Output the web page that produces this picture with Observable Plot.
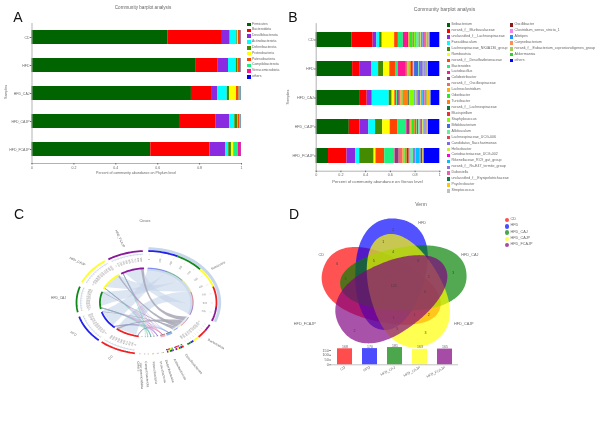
<!DOCTYPE html>
<html><head><meta charset="utf-8">
<script src="https://cdn.jsdelivr.net/npm/d3@7"></script>
<script src="https://cdn.jsdelivr.net/npm/@observablehq/plot@0.6"></script>
<style>
html,body{margin:0;padding:0;background:#fff}
#root{position:relative;width:609px;height:421px;overflow:hidden;font-family:"Liberation Sans",Arial,sans-serif;filter:blur(.4px)}
#root svg{position:absolute;overflow:visible}
.t{position:absolute;white-space:nowrap;color:#666;line-height:1}
.k{position:absolute}
</style></head><body><div id="root"></div>
<script>
// ---------- Panel A data ----------
const samples = ["CD","HFD","HFD_CAJ","HFD_CAJP","HFD_FCAJP"];
const phyla = ["Firmicutes","Bacteroidota","Desulfobacterota","Actinobacteriota","Deferribacterota","Proteobacteria","Patescibacteria","Campilobacterota","Verrucomicrobiota","others"];
const phylaColors = ["#006400","#ff0000","#8a2be2","#00ffff","#458b00","#ffff00","#ff4500","#1cf07f","#ff1493","#0000ff"];
const phylaCD    = [.648,.261,.037,.032,.004,.003,.012,.001,.001,.001];
const phylaHFD   = [.781,.108,.049,.037,.009,.001,.011,.002,.001,.001];
const phylaCAJ   = [.761,.100,.026,.045,.012,.032,.013,.009,.001,.001];
const phylaCAJP  = [.704,.173,.067,.024,.013,.002,.010,.005,.001,.001];
const phylaFCAJP = [.567,.282,.075,.015,.013,.010,.002,.020,.015,.001];
const phylaBySample = [phylaCD,phylaHFD,phylaCAJ,phylaCAJP,phylaFCAJP];

// ---------- Panel B data ----------
const genera = ["Ileibacterium","norank_f__Muribaculaceae","unclassified_f__Lachnospiraceae","Faecalibaculum","Lachnospiraceae_NK4A136_group","Romboutsia","norank_f__Desulfovibrionaceae","Bacteroides","Lactobacillus","Colidextribacter","norank_f__Oscillospiraceae","Lachnoclostridium","Odoribacter","Turicibacter","norank_f__Lachnospiraceae","Mucispirillum","Staphylococcus","Bifidobacterium","Allobaculum","Lachnospiraceae_UCG-006","Candidatus_Saccharimonas","Helicobacter","Coriobacteriaceae_UCG-002","Rikenellaceae_RC9_gut_group","norank_f__Rs-E47_termite_group","Dubosiella","unclassified_f__Erysipelotrichaceae","Psychrobacter","Streptococcus","Oscillibacter","Clostridium_sensu_stricto_1","Alistipes","Corynebacterium","norank_f__Eubacterium_coprostanoligenes_group","Akkermansia","others"];
const genusColors = ["#006400","#ff0000","#8a2be2","#00ffff","#458b00","#ffff00","#ff4500","#1cf07f","#ff1493","#8b3a7a","#f0696a","#ffb000","#22ee22","#ff7f10","#0a7a3a","#f03030","#7fff00","#4169e1","#66ee99","#e04050","#7b68ee","#c8f030","#ff00e0","#00bfff","#9370db","#f060a8","#0a8040","#ffc800","#c0c0c0","#8b1a1a","#ee82ee","#1e90ff","#ff8c50","#a2cd5a","#32cd32","#0000ff"];
const generaCD    = [.286,.172,.030,.022,.021,.100,.030,.040,.033,.008,.005,.005,.026,.003,.006,.003,.008,.006,.025,.005,.008,.005,.006,.006,.012,.015,.004,.004,.003,.003,.004,.003,.003,.003,.003,.078];
const generaHFD   = [.296,.062,.095,.054,.040,.051,.046,.024,.060,.005,.010,.012,.008,.012,.010,.006,.008,.035,.006,.008,.022,.004,.002,.006,.010,.006,.004,.002,.002,.001,.001,.001,.001,.001,.001,.092];
const generaCAJ   = [.329,.051,.038,.126,.022,.020,.014,.006,.008,.006,.012,.010,.006,.040,.006,.004,.038,.006,.010,.006,.020,.006,.004,.010,.012,.010,.006,.022,.002,.001,.001,.001,.001,.001,.001,.065];
const generaCAJP  = [.251,.081,.067,.051,.054,.057,.059,.062,.008,.018,.010,.012,.016,.006,.006,.004,.004,.012,.012,.006,.012,.008,.002,.006,.010,.006,.002,.002,.001,.001,.001,.001,.001,.001,.001,.086];
const generaFCAJP = [.094,.141,.067,.030,.110,.014,.067,.078,.004,.028,.030,.014,.012,.006,.012,.006,.004,.006,.020,.006,.008,.004,.002,.030,.006,.002,.012,.004,.001,.001,.001,.001,.001,.001,.001,.119];
const generaBySample = [generaCD,generaHFD,generaCAJ,generaCAJP,generaFCAJP];

// ---------- Panel C data (angles are clockwise from the top, degrees) ----------
const sampleColors = ["#ee2222","#2222ee","#11881a","#ffff22","#8a1a9a"];
const sampleStart = [189.6,223,259,293,327];
const sampleEnd   = [219.9,254,288,323.6,357];
const firmicutesOrder = ["HFD","HFD_CAJ","HFD_CAJP","CD","HFD_FCAJP"];
const firmicutesEdges = [1.5,26.5,50,72,95,111];
const bacteroidotaOrder = ["HFD_FCAJP","CD","HFD_CAJP","HFD","HFD_CAJ"];
const bacteroidotaEdges = [115.5,123,132,138,141,144.3];
const minorPhyla  = ["Desulfobacterota","Actinobacteriota","Deferribacterota","Proteobacteria","Patescibacteria","Campilobacterota","Verrucomicrobiota","Others"];
const minorStart  = [148,157,165.5,170,174,178,181,185];
const minorEnd    = [155.5,163,167.5,171.5,175.5,179,182,186];
const minorColors = ["#7d9fe8","#e86a9a","#9b7be0","#d090d0","#35b5a5","#7fc8a0","#55c0c0","#a0d0b8"];
const minorLabelAngle = [151,160,166,170,175,180.5,184,186];
const minorLabelR     = [1.153,1.164,1.148,1.163,1.15,1.146,1.17,1.15];
const minorLabelRot   = [50,62,72,78,83,85,87,86];
const majorLabels = ["Firmicutes","Bacteroidota"];
const majorLabelAngle = [55,129];
const majorLabelR = [1.25,1.28];
const majorLabelRot = [-28,30];
const sampleLabelAngle = [205.7,240,274,309,343];
const sampleLabelR = [1.185,1.206,1.26,1.27,1.295];
const sampleLabelRot = [-45,30,0,25,65];

// ---------- Panel D data ----------
const vennColors = ["#ff0000","#0000ff","#008000","#ffff00","#800080"];
const vennCenterX = [290,315,355,362,322];
const vennCenterY = [280,238,252,285,305];
const vennTipAngle = [290,8.5,85,157,240];
const vennLong = [185,168,190,177,181];
const vennWide = [100,105,95,108,105];
const vennLabels = ["CD","HFD","HFD_CAJ","HFD_CAJP","HFD_FCAJP"];
const vennLabelX = [107,410,553,535,58];
const vennLabelY = [178,83,178,385,385];
const vennNumbers = ["6","2","3","3","2","1","4","5","3","8","2","4","2","1","1","5","3","125"];
const vennNumberX = [155,323,503,420,207,293,323,265,180,398,430,418,430,388,325,335,220,325];
const vennNumberY = [205,103,233,413,405,140,170,197,250,197,243,290,357,357,367,400,237,272];
const sharedCounts = [168,170,181,163,165];

// ---------- helpers ----------
const root = document.getElementById("root");
function put(node,left,top){node.style.left=left+"px";node.style.top=top+"px";root.appendChild(node);}
function label(text,x,y,size,opts={}){
  const d=document.createElement("div");d.className="t";d.textContent=text;d.style.fontSize=size+"px";
  const ax=opts.anchor==="start"?"0":"-50%";
  d.style.transform=`translate(${ax},-50%)`+(opts.rotate?` rotate(${opts.rotate}deg)`:"");
  if(opts.color)d.style.color=opts.color;
  put(d,x,y);
}
function legend(names,colors,x,y,step,size,box){
  names.forEach((n,i)=>{
    const k=document.createElement("div");k.className="k";
    k.style.cssText+=`width:${box}px;height:${box}px;background:${colors[i]}`;
    put(k,x,y+i*step-box/2);
    label(n,x+box+1.4,y+i*step,size,{anchor:"start"});
  });
}
const tidy=(names,bySample)=>samples.flatMap((s,j)=>names.map((n,i)=>({sample:s,name:n,value:bySample[j][i]})));
function barPanel({left,top,w,h,ml,mr,mt,mb,names,colors,bySample,fs}){
  const p=Plot.plot({width:w,height:h,marginLeft:ml,marginRight:mr,marginTop:mt,marginBottom:mb,
    style:{background:"transparent",color:"#666",fontFamily:"Liberation Sans"},
    x:{domain:[0,1]},y:{domain:samples,paddingInner:.5,paddingOuter:.25},
    color:{domain:names,range:colors},
    marks:[
      Plot.barX(tidy(names,bySample),Plot.stackX({offset:"normalize",x:"value",y:"sample",fill:"name",z:"name"})),
      Plot.frame({anchor:"left",stroke:"#aaa",strokeWidth:.9}),
      Plot.frame({anchor:"bottom",stroke:"#aaa",strokeWidth:.9}),
      Plot.axisX({ticks:[0,.2,.4,.6,.8,1],tickFormat:d3.format("~g"),fontSize:fs,tickSize:1.5,tickPadding:1,label:null}),
      Plot.axisY({fontSize:fs,tickSize:1.5,tickPadding:1,label:null})
    ]});
  p.style.left=left+"px";p.style.top=top+"px";root.appendChild(p);
}

// ---------- Panel A ----------
barPanel({left:0,top:0,w:290,h:190,ml:31.5,mr:49,mt:23,mb:27,names:phyla,colors:phylaColors,bySample:phylaBySample,fs:3.5});
label("A",18,17,14,{color:"#111"});
label("Community barplot analysis",143,8,4.6);
label("Percent of community abundance on Phylum level",136,174,3.6);
label("Samples",7.3,92,3.6,{rotate:-90});
legend(phyla,phylaColors,247,24.6,5.82,3.4,3.6);

// ---------- Panel B ----------
barPanel({left:285,top:0,w:324,h:190,ml:30.7,mr:324-154.3,mt:23.2,mb:19.3,names:genera,colors:genusColors,bySample:generaBySample,fs:3.7});
label("B",293,17,14,{color:"#111"});
label("Community barplot analysis",444.5,8.5,5);
label("Percent of community abundance on Genus level",377.5,181.5,4.15);
label("Samples",288.5,97,3.8,{rotate:-90});
legend(genera.slice(0,29),genusColors.slice(0,29),446.5,25,5.93,3.6,3.6);
legend(genera.slice(29),genusColors.slice(29),509.5,25,5.93,3.6,3.6);

// ---------- Panel C ----------
const rad=d=>d*Math.PI/180;
const pt=(a,r)=>[r*Math.sin(rad(a)),r*Math.cos(rad(a))];
const arcPts=(key,a0,a1,r,stroke,w)=>{const n=Math.max(2,Math.ceil(Math.abs(a1-a0)/2));
  return d3.range(n+1).map(i=>{const [x,y]=pt(a0+(a1-a0)*i/n,r);return {x,y,key,stroke,w};});};
const bez=(p,c,q,t)=>[0,1].map(k=>(1-t)*(1-t)*p[k]+2*t*(1-t)*c[k]+t*t*q[k]);
const ribbon=(key,a0,a1,b0,b1,r,c,fill)=>d3.range(31).map(i=>{const t=i/30;
  const [x1,y1]=bez(pt(a0,r),c,pt(b1,r),t),[x2,y2]=bez(pt(a1,r),c,pt(b0,r),t);return {key,x1,y1,x2,y2,fill};});
const rIn=.665;
const rings=[],pale=[];
const sampleSlice=s=>{const j=samples.indexOf(s),v=phylaBySample[j],span=sampleEnd[j]-sampleStart[j];
  const minorShare=d3.sum(v.slice(2));
  const a=sampleStart[j];
  return {j,minor:[a,a+span*minorShare],firm:[a+span*minorShare,a+span*(minorShare+v[0])],bact:[a+span*(minorShare+v[0]),a+span]};};
const firmRibbons=firmicutesOrder.flatMap((s,i)=>{const q=sampleSlice(s);return ribbon("f"+i,q.firm[0],q.bact[1],firmicutesEdges[i],firmicutesEdges[i+1],rIn-.01,[0,.2],"#c6d5ea");});
const bactRibbons=bacteroidotaOrder.flatMap((s,i)=>{const q=sampleSlice(s);const w=(q.bact[1]-q.bact[0])*.38;return ribbon("b"+i,q.bact[1]-w,q.bact[1],bacteroidotaEdges[i],bacteroidotaEdges[i+1],rIn-.01,[0,-.28],"#a7a7b6");});
const minorLines=samples.flatMap((s,j)=>{const q=sampleSlice(s);return minorPhyla.flatMap((m,i)=>{
  const v=phylaBySample[j][i+2]; if(v<.004) return [];
  const a=(q.minor[0]+q.minor[1])/2,b=(minorStart[i]+minorEnd[i])/2;
  return d3.range(31).map(k=>{const [x,y]=bez(pt(a,rIn-.01),[0,-.35],pt(b,rIn-.01),k/30);return {x,y,key:s+m,stroke:minorColors[i],w:.35};});
});});
samples.forEach((s,j)=>{
  rings.push(...arcPts("o"+j,sampleStart[j],sampleEnd[j],1,sampleColors[j],1.5));
  rings.push(...arcPts("i"+j,sampleStart[j],sampleEnd[j],rIn,sampleColors[j],1.6));
  rings.push(...arcPts("tr"+j,sampleStart[j]+1,sampleEnd[j],.94,"#9fb8dc",.45));
});
firmicutesOrder.forEach((s,i)=>{const c=sampleColors[samples.indexOf(s)];
  rings.push(...arcPts("fo"+i,firmicutesEdges[i],firmicutesEdges[i+1],1,c,1.5));
  rings.push(...arcPts("fi"+i,firmicutesEdges[i],firmicutesEdges[i+1],rIn,c,.5));});
bacteroidotaOrder.forEach((s,i)=>{const c=sampleColors[samples.indexOf(s)];
  rings.push(...arcPts("bo"+i,bacteroidotaEdges[i],bacteroidotaEdges[i+1],1,c,1.5));
  rings.push(...arcPts("bi"+i,bacteroidotaEdges[i],bacteroidotaEdges[i+1],rIn,c,.4));});
minorPhyla.forEach((m,i)=>{
  const wide=i<2;
  samples.forEach((s,j)=>{const a=minorStart[i]+(minorEnd[i]-minorStart[i])*j/5,b=minorStart[i]+(minorEnd[i]-minorStart[i])*(j+1)/5;
    rings.push(...arcPts("mo"+i+j,a,b,1,sampleColors[j],wide?2:.7));
    if(wide) rings.push(...arcPts("mp"+i+j,a,b,.96,sampleColors[(j+2)%5],1.2));});
  if(wide) pale.push(...arcPts("mq"+i,minorStart[i],minorEnd[i],rIn+.02,i?"#f0a0b8":"#7fa6e8",2.6));
  rings.push(...arcPts("mi"+i,minorStart[i],minorEnd[i],rIn,"#444",.6));
});
pale.push(...arcPts("pf",firmicutesEdges[0],firmicutesEdges[5],1.045,"#bcd0e8",3));
pale.push(...arcPts("pi",firmicutesEdges[0],firmicutesEdges[5],rIn-.015,"#c5d6ec",3.2));
pale.push(...arcPts("pb",bacteroidotaEdges[0],bacteroidotaEdges[5],rIn-.015,"#e8eef6",2.5));
const tickRows=[];
samples.forEach((s,j)=>{for(let a=sampleStart[j]+1.5,k=0;a<sampleEnd[j];a+=2.9,k++) tickRows.push({a,k});});
for(let a=firmicutesEdges[0]+1,k=0;a<firmicutesEdges[5];a+=11,k++) tickRows.push({a,k});
for(let a=bacteroidotaEdges[0]+1,k=0;a<bacteroidotaEdges[5];a+=3,k++) tickRows.push({a,k});
const tickLab=tickRows.map(d=>{const [x,y]=pt(d.a,.835);return {x,y,text:String(d.k*100),rot:d.a<180?d.a-90:d.a+90};});
const tickMarks=tickRows.map(d=>{const [x,y]=pt(d.a,.95),[x2,y2]=pt(d.a,.915);return {x,y,x2,y2};});
const labC=[
 ...majorLabels.map((t,i)=>{const [x,y]=pt(majorLabelAngle[i],majorLabelR[i]);return {x,y,t,rot:majorLabelRot[i]};}),
 ...samples.map((t,i)=>{const [x,y]=pt(sampleLabelAngle[i],sampleLabelR[i]);return {x,y,t,rot:sampleLabelRot[i]};})
];
const labMinor=minorPhyla.map((t,i)=>{const [x,y]=pt(minorLabelAngle[i],minorLabelR[i]);return {x,y,t,rot:minorLabelRot[i]};});
const pC=Plot.plot({width:290,height:221,margin:0,
  style:{background:"transparent",color:"#666",fontFamily:"Liberation Sans"},
  x:{axis:null,domain:[-146/70,144/70],range:[0,290]},
  y:{axis:null,domain:[-119/51.5,102/51.5],range:[221,0]},
  color:{type:"identity"},
  marks:[
    Plot.area(firmRibbons,{x1:"x1",y1:"y1",x2:"x2",y2:"y2",z:"key",fill:"fill",fillOpacity:.62}),
    Plot.area(bactRibbons,{x1:"x1",y1:"y1",x2:"x2",y2:"y2",z:"key",fill:"fill",fillOpacity:.85}),
    Plot.line(minorLines,{x:"x",y:"y",z:"key",stroke:"stroke",strokeWidth:.35,strokeOpacity:.9}),
    Plot.line(pale,{x:"x",y:"y",z:"key",stroke:"stroke",strokeWidth:"w",strokeOpacity:.85,strokeLinecap:"butt"}),
    Plot.line(rings.filter(d=>d.w===1.5),{x:"x",y:"y",z:"key",stroke:"stroke",strokeWidth:1.8,strokeLinecap:"butt"}),
    Plot.line(rings.filter(d=>d.w===1.6),{x:"x",y:"y",z:"key",stroke:"stroke",strokeWidth:1.8,strokeLinecap:"butt"}),
    Plot.line(rings.filter(d=>d.w<1.2),{x:"x",y:"y",z:"key",stroke:"stroke",strokeWidth:.5,strokeLinecap:"butt"}),
    Plot.line(rings.filter(d=>d.w===2),{x:"x",y:"y",z:"key",stroke:"stroke",strokeWidth:2,strokeLinecap:"butt"}),
    Plot.line(rings.filter(d=>d.w===1.2),{x:"x",y:"y",z:"key",stroke:"stroke",strokeWidth:1.2,strokeLinecap:"butt"}),
    Plot.link(tickMarks,{x1:"x",y1:"y",x2:"x2",y2:"y2",stroke:"#bbb",strokeWidth:.3}),
    Plot.text(tickLab,{x:"x",y:"y",text:"text",rotate:"rot",fontSize:2.5,fill:"#888"}),
    Plot.text(labC,{x:"x",y:"y",text:"t",rotate:"rot",fontSize:3.3,fill:"#666"}),
    Plot.text(labMinor,{x:"x",y:"y",text:"t",rotate:"rot",textAnchor:"start",fontSize:3.3,fill:"#666"})
  ]});
pC.style.left="0px";pC.style.top="200px";root.appendChild(pC);
label("C",19,214,14,{color:"#111"});
label("Circos",145,222,3.8);

// ---------- Panel D ----------
const petals=vennColors.flatMap((c,i)=>{
  const th=rad(vennTipAngle[i]),a=vennLong[i],b=vennWide[i],k=.16,e=2/2.2;
  const cx=vennCenterX[i],cy=vennCenterY[i];
  const ux=Math.sin(th),uy=-Math.cos(th),nx=Math.cos(th),ny=Math.sin(th);
  return d3.range(121).map(n=>{const t=Math.PI*n/120,ct=Math.cos(t),st=Math.sin(t);
    const u=a*Math.sign(ct)*Math.pow(Math.abs(ct),e),v=b*Math.pow(st,e)*(1+k*u/a);
    return {key:i,fill:c,x1:cx+ux*u+nx*v,y1:cy+uy*u+ny*v,x2:cx+ux*u-nx*v,y2:cy+uy*u-ny*v};});
});
const pD=Plot.plot({width:324,height:226,margin:0,
  style:{background:"transparent",color:"#666",fontFamily:"Liberation Sans"},
  x:{axis:null,domain:[0,972],range:[0,324]},y:{axis:null,domain:[0,678],range:[0,226]},
  color:{type:"identity"},
  marks:[
    Plot.area(petals,{x1:"x1",y1:"y1",x2:"x2",y2:"y2",z:"key",fill:"fill",fillOpacity:.68}),
    Plot.text(vennNumbers,{x:(d,i)=>vennNumberX[i],y:(d,i)=>vennNumberY[i],text:d=>d,fontSize:3.6,fill:"#444"}),
    Plot.text(vennLabels,{x:(d,i)=>vennLabelX[i],y:(d,i)=>vennLabelY[i],text:d=>d,fontSize:3.8,fill:"#666"})
  ]});
pD.style.left="285px";pD.style.top="195px";root.appendChild(pD);
label("D",294,214,14,{color:"#111"});
label("Venn",421,204,5);
vennLabels.forEach((t,i)=>{
  const k=document.createElement("div");k.className="k";
  k.style.cssText+=`width:4.4px;height:4.4px;border-radius:50%;background:${vennColors[i]};opacity:.7`;
  put(k,504.5,220.3+i*6.15-2.2);
  label(t,510.5,220.3+i*6.15,3.8,{anchor:"start"});
});
const pBars=Plot.plot({width:200,height:50,marginLeft:30.8,marginRight:42,marginTop:6.2,marginBottom:25.7,
  style:{background:"transparent",color:"#666",fontFamily:"Liberation Sans"},
  x:{domain:samples,paddingInner:.4,paddingOuter:.2},y:{domain:[0,190]},color:{type:"identity"},
  marks:[
    Plot.barY(sharedCounts,{x:(d,i)=>samples[i],y:d=>d,fill:(d,i)=>vennColors[i],fillOpacity:.7}),
    Plot.text(sharedCounts,{x:(d,i)=>samples[i],y:d=>d,text:d=>d,dy:-2,fontSize:3.5,fill:"#666"}),
    Plot.ruleY([0],{stroke:"#888",strokeWidth:.5}),
    Plot.axisY({ticks:[0,50,100,150],fontSize:3.8,tickSize:1.5,tickPadding:1,label:null}),
    Plot.axisX({tickRotate:-28,fontSize:3.6,tickSize:0,tickPadding:2.5,label:null})
  ]});
pBars.style.left="300px";pBars.style.top="340px";root.appendChild(pBars);
</script></body></html>
